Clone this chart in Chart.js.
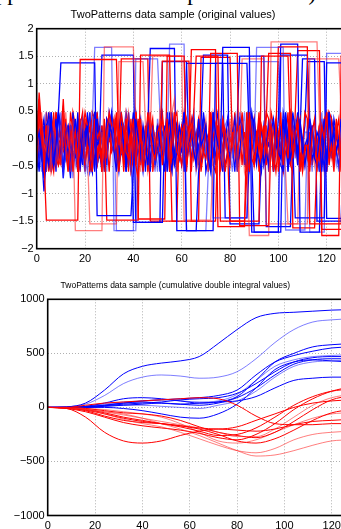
<!DOCTYPE html>
<html>
<head>
<meta charset="utf-8">
<script src="https://cdn.jsdelivr.net/npm/chart.js@4.4.1/dist/chart.umd.min.js"></script>
<style>
  html, body { margin: 0; padding: 0; background: #fff; overflow: hidden; width: 341px; height: 529px; position: relative; }
  #caption { position: absolute; right: 19px; top: -17px; font: 23px/20px "Liberation Serif", serif; white-space: nowrap; color: #000; }
  #rawChart { position: absolute; left: 0; top: 0; }
  #cumChart { position: absolute; left: 0; top: 270px; }
</style>
</head>
<body>
<div id="caption">approximation data representations).</div>
<canvas id="rawChart" width="360" height="270"></canvas>
<canvas id="cumChart" width="360" height="259"></canvas>
<script>
// ticks
const xTicks = [0, 20, 40, 60, 80, 100, 120];
const rawTicks = [-2, -1.5, -1, -0.5, 0, 0.5, 1, 1.5, 2];
const cumTicks = [-1000, -500, 0, 500, 1000];

// noise part of each series, one char per sample: 'i' = 0, each letter step = 0.12
const blueNoise = [
  "hjgafilehmjgdkhi ligfjmhekgidjhlf gkeihjmfdligkhej ifkhgdjlhegkimfh jgelhikfdmjhgeil hkfjgimdhekjlgfi gjhekflidhmjgkie hlfgjidkemhjgilf",
  "kgdihlejfimcghkj egjlfdhkimegjhfl jeglhfkdimhgejlk fhdkjgmeilhfjdkg ilegjhkfdmiglehj gdkhmjfeilgkdhjb hjfmegkidhlfjgek jhdlgimfekhjgdli",
  "dhkjgemilfhcjkgi lgejhkfdmhigkejh fkihdlgjemhfkigd jmgehkdilfjhgmek hegjldkhimfgjehl kfhdjmgeiklhfdjg ejlhgkdmifhjelgh igkfejhldmgkihfj",
  "jfhcklgeimhdjgkf hlegjkdfmihgelkj gdjmhekilfghjdkm ehkgjldfihmegkjh kgidhmjelfkhgdji fjlegkhdimjfhkeg lhdjgfmkeihjdlgk higekjdlfmhgkeji",
  "gkhemjdilhfkgejc ihlfdkgjmehigdlk hejgkmfdilhjegkh jdlhfigkemjhdkgi kgfjhledimkgjfhe hmdgkjiflehgkdjl fihkegjmdhlfikgj jekhgdlifmjhegki",
  "ikgdjhmelfgikhdj gmhejkfdilgjhemk hfjlgdkimehfjgld kehigjmfdlkhegji jlfhdkgeimjfhldg egkjhmidflgekjhi hkdglfjeimhkdgjf ljgehikdmfljgehk",
  "hdjlgkfeimhdjgck fkighmejdlfkhgim jgelkdhifmjgeklh dihkjgmeflhdikjg kmfhegjidlkmfheg ghjdlkeimfghjdlk iegkhjfmdlieghkj fljhgdkemifljhgd",
  "jkfhdligmejkfhdl gidkjhmflegidkjh lhgejkdimfhlgejk egkmhidjflegkmhi hjdfklgeimhjdfkl kfihgjmedlkfihgj dlgjhekifmdlgjhe ihkegfjldmihkegf",
  "gjhkdmeilfgjhkdm hekfjlgdimhekfjl jgdhkemilfjgdhke kihfgjldmekihfgj fhjekgdimlfhjekg ildgkhjfmeildgkh hgkjfedlimhgkjfe ekhidjglfmekhidj",
  "khfjgelidmkhfjge gdihkjmflegdihkj jlegfhkdimjlegfh hfkdjigmelhfkdji ekgjhldfimekgjhl ihdlkgjmfeihdlkg gjmehkfidlgjmehk lfhgijdkemlfhgij"
];
const redNoise = [
  "hpkfdjlgeimhkfjd ljgeihkmdfljgeih kdhmjgfileckdhmj gfjkehldimgfjkeh imdgkjhelfimdgkj ehlfjgkdmiehlfjg jkgdhmeiflfjkgdh hdjlegkimfhdjleg",
  "ejmhgkdlifejmhgk lgdikfhjmelgdikf hkjfemgidlhkjfem dihlgjkfmodihlgj kfgehjldimkfgehj gljdkhifemgljdkh imehfgkjdlimehfg fhkjdlegmifhkjdl",
  "iogdkhjlfeiogdkh jfkmehgdlijfkmeh hdlgjkfimehdlgjk mgejhidkflmgejhi kfhldgjemikfhldg ejgkimhdlfejgkim lhdjfkgiemlhdjfk gkifhejdmlgkifhe",
  "fljhkdgimefljhkd hegjmkdilfhegjmk kidhflgjemkidhfl jgmfekhdlijgmfek dkhljgfimedkhljg ihfegkjdmlihfegk gjldhmkefigjldhm lekgifhjdmlekgif",
  "knfjdhlgeiknfjdh gjeilkhdmfgjeilk hdkgfjmielhdkgfj jmhelgdkfijmhelg fgkdjhimlefgkdjh lhjgekdfmilhjgek eikfhgjdlmeikfhg kgdjmhlfiekgdjmh",
  "hkgemjdflihkgemj jdlfihkgmejdlfih gihkdjelfmgihkdj lfjghmkdeilfjghm ekdhjgilmfekdhjg ihmfkejgdlihmfke kgjldhfimekgjldh fjehgkmdlifjehgk",
  "jhlekgfdmijhlekg gkfidjhmlegkfidj lejhgmkdfilejhgm dgkjlhfiemdgkjlh hmifekjgldhmifek kjdghlemfikjdghl fihkjdglmefihkjd iglhfkejdmiglhfk",
  "gmjdhkleifgmjdhk kfhljgdimekfhljg ihekdfmjglihekdf ejgmkhildfejgmkh hldgjfkemihldgjf jkfhimdelgjkfhim dhjkgelfmidhjkge lgiehkjdfmlgiehk",
  "ekjhgldmfiekjhgl hgdlkjfiemhgdlkj jmfegkhdlijmfegk fkhjdimlgefkhjdi lihgejkdmflihgej gdjkhmfeligdjkhm kjelfhdgimkjelfh hfgidkjlmehfgidk",
  "ighkfmjdleighkfm kdjhlgeimfkdjhlg hlfjeidkgmhlfjei jegkmhfldijegkmh fkdligjhmefkdlig lhjgfkemdilhjgfk dmkhjgilfedmkhjg gjfeklhdimgjfekl"
];

// flat pattern segments of each series: [from, to, level]
const blueSteps = [
  [[10, 25, 1.38], [25, 39, -1.40], [77, 89, 1.66], [89, 101, -1.70]],
  [[24, 32, 1.66], [32, 41, -1.67], [91, 103, 1.66], [103, 111, -1.66]],
  [[27, 41, 1.52], [41, 52, -1.52], [62, 74, -1.67], [74, 87, 1.37]],
  [[47, 58, 1.64], [58, 66, -1.67], [107, 120, -1.44], [120, 128, 1.38]],
  [[55, 62, 1.72], [62, 70, -1.67], [73, 88, -1.44], [88, 100, 1.40]],
  [[62, 78, 1.37], [78, 87, -1.44], [101, 109, 1.72], [109, 117, -1.70]],
  [[40, 52, -1.52], [52, 62, 1.40], [90, 101, -1.70], [101, 112, 1.52]],
  [[33, 41, -1.67], [41, 50, 1.45], [113, 120, -1.70], [120, 128, 1.55]],
  [[69, 80, 1.52], [80, 92, -1.55], [110, 116, 1.45], [116, 126, -1.50]],
  [[84, 95, 1.50], [95, 105, -1.60], [112, 120, 1.40], [120, 127, -1.45]]
];
const redSteps = [
  [[4, 18, -1.48], [18, 33, 1.44], [66, 76, 1.50], [76, 86, -1.50]],
  [[16, 28, -1.67], [28, 40, 1.67], [88, 97, -1.76], [97, 116, 1.76]],
  [[29, 43, -1.48], [43, 55, 1.52], [100, 113, 1.67], [113, 126, -1.55]],
  [[42, 54, -1.46], [54, 61, 1.50], [80, 93, -1.50], [93, 104, 1.50]],
  [[48, 61, 1.50], [61, 72, -1.48], [104, 113, -1.55], [113, 125, 1.45]],
  [[52, 64, 1.41], [64, 74, -1.50], [118, 126, -1.76], [126, 128, 1.50]],
  [[64, 75, 1.62], [75, 86, -1.60], [96, 106, 1.55], [106, 115, -1.62]],
  [[22, 34, -1.55], [34, 44, 1.40], [85, 95, 1.45], [95, 108, -1.55]],
  [[35, 47, 1.45], [47, 58, -1.50], [72, 84, 1.55], [84, 96, -1.58]],
  [[56, 68, -1.50], [68, 80, 1.48], [108, 118, 1.60], [118, 128, -1.65]]
];

// cumulative double integral, read every 8 samples
const cumX = [0, 8, 16, 24, 32, 40, 48, 56, 64, 72, 80, 88, 96, 104, 112, 120, 128];
const blueCum = [
  [0, 5, 40, 160, 310, 380, 410, 430, 470, 590, 720, 830, 870, 880, 890, 900, 905],
  [0, 5, 30, 110, 220, 280, 300, 290, 270, 280, 330, 450, 600, 720, 790, 810, 820],
  [0, 0, 10, 40, 80, 90, 80, 60, 40, 50, 100, 250, 420, 500, 560, 580, 590],
  [0, 0, 5, 20, 40, 60, 70, 80, 90, 110, 160, 300, 420, 480, 520, 550, 560],
  [0, 0, 10, 30, 50, 60, 70, 60, 50, 60, 120, 250, 380, 440, 470, 480, 490],
  [0, 0, 5, 15, 30, 40, 50, 70, 80, 90, 130, 220, 330, 420, 460, 470, 470],
  [0, 0, 0, 10, 20, 30, 40, 30, 20, 40, 90, 180, 300, 400, 440, 450, 450],
  [0, 0, 5, 10, 20, 20, 10, 0, -10, 20, 60, 150, 280, 380, 420, 430, 440],
  [0, 0, 5, 20, 40, 50, 40, 30, 40, 50, 60, 100, 180, 250, 270, 280, 280],
  [0, 0, 0, 0, -10, -30, -60, -90, -100, -60, 30, 180, 350, 420, 440, 430, 420]
];
const redCum = [
  [0, -10, -90, -230, -310, -330, -310, -260, -220, -200, -210, -220, -200, -160, -130, -120, -110],
  [0, -5, -20, -60, -110, -150, -180, -230, -290, -350, -400, -420, -380, -300, -250, -230, -220],
  [0, -5, -30, -80, -120, -140, -150, -170, -200, -250, -310, -330, -290, -210, -120, -50, -20],
  [0, 0, 20, 40, 50, 60, 70, 80, 90, 80, 20, -80, -150, -160, -160, -150, -150],
  [0, -5, -20, -40, -60, -100, -150, -200, -260, -330, -400, -450, -440, -400, -350, -310, -300],
  [0, -10, -40, -90, -140, -170, -190, -210, -240, -280, -300, -250, -150, -20, 80, 150, 190],
  [0, -5, -20, -50, -90, -120, -150, -180, -220, -260, -250, -190, -90, 20, 100, 150, 170],
  [0, -5, -15, -40, -70, -100, -130, -160, -190, -230, -270, -270, -200, -90, 20, 90, 120],
  [0, 0, -10, -30, -50, -60, -80, -120, -180, -230, -260, -280, -230, -130, -20, 70, 110],
  [0, -5, -25, -60, -100, -130, -150, -170, -190, -200, -180, -120, -60, 0, 40, 60, 70],
  [0, 0, -10, -20, -40, -60, -90, -150, -230, -310, -330, -300, -230, -160, -100, -60, -50]
];

const FONT = "'Liberation Sans', Arial, Helvetica, sans-serif";
const NOISE_STEP = 0.12;
const minus = v => String(v).replace('-', '\u2212');

function buildRaw(noise, steps) {
  const s = noise.replace(/ /g, '');
  const pts = [];
  for (let i = 0; i < s.length; i++) {
    let y = (s.charCodeAt(i) - 105) * NOISE_STEP;
    for (const [a, b, lv] of steps) if (i >= a && i <= b) y = lv;
    pts.push({ x: i, y: y });
  }
  return pts;
}

function lineColor(base, i) {
  // a few curves come out paler in the print
  if (base === 'blue') return i % 3 === 1 ? 'rgba(40,40,255,0.6)' : '#0000ff';
  return i % 3 === 1 ? 'rgba(255,40,40,0.6)' : '#ff0000';
}

const boxPlugin = {
  id: 'box',
  afterDatasetsDraw(chart) {
    const { ctx, chartArea: a } = chart;
    ctx.save();
    ctx.strokeStyle = '#000';
    ctx.lineWidth = 1.6;
    ctx.strokeRect(a.left, a.top, a.width, a.height);
    ctx.restore();
  }
};

function axes(yTicks, yMin, yMax, yWidth, xHeight) {
  return {
    x: {
      type: 'linear', min: 0, max: 128,
      afterBuildTicks: s => { s.ticks = xTicks.map(v => ({ value: v })); },
      afterFit: s => { s.height = xHeight; },
      grid: { color: '#b0b0b0', lineWidth: 1, drawTicks: false },
      border: { display: false, dash: [1, 2] },
      ticks: { padding: 4, color: '#000', font: { family: FONT, size: 11 }, maxRotation: 0, callback: minus }
    },
    y: {
      type: 'linear', min: yMin, max: yMax,
      afterBuildTicks: s => { s.ticks = yTicks.map(v => ({ value: v })); },
      afterFit: s => { s.width = yWidth; },
      grid: { color: '#b0b0b0', lineWidth: 1, drawTicks: false },
      border: { display: false, dash: [1, 2] },
      ticks: { padding: 3, color: '#000', font: { family: FONT, size: 11 }, callback: minus }
    }
  };
}

// red and blue interleaved so both show through the noise band (first dataset is drawn on top)
const rawSets = [];
redNoise.forEach((n, i) => {
  rawSets.push({ data: buildRaw(n, redSteps[i]), borderColor: lineColor('red', i) });
  rawSets.push({ data: buildRaw(blueNoise[i], blueSteps[i]), borderColor: lineColor('blue', i) });
});

new Chart(document.getElementById('rawChart'), {
  type: 'line',
  data: { datasets: rawSets.map(d => Object.assign(d, { borderWidth: 1.3, pointRadius: 0, tension: 0, fill: false })) },
  options: {
    responsive: false, animation: false, devicePixelRatio: 1,
    layout: { padding: { left: 0, right: 14, top: 0, bottom: 0 } },
    plugins: {
      legend: { display: false }, tooltip: { enabled: false },
      title: { display: true, text: 'TwoPatterns data sample (original values)', color: '#000',
               font: { family: FONT, size: 11, weight: 'normal' }, padding: { top: 8, bottom: 7.5 } }
    },
    scales: axes(rawTicks, -2, 2, 36.7, 21.3)
  },
  plugins: [boxPlugin]
});

const cumSets = [];
redCum.forEach((c, i) => cumSets.push({ data: c.map((v, k) => ({ x: cumX[k], y: v })), borderColor: lineColor('red', i) }));
blueCum.forEach((c, i) => cumSets.push({ data: c.map((v, k) => ({ x: cumX[k], y: v })), borderColor: lineColor('blue', i) }));

new Chart(document.getElementById('cumChart'), {
  type: 'line',
  data: { datasets: cumSets.map(d => Object.assign(d, { borderWidth: 1, pointRadius: 0, cubicInterpolationMode: 'monotone', fill: false })) },
  options: {
    responsive: false, animation: false, devicePixelRatio: 1,
    layout: { padding: { left: 0, right: 9.3, top: 0, bottom: 0 } },
    plugins: {
      legend: { display: false }, tooltip: { enabled: false },
      title: { display: true, text: 'TwoPatterns data sample (cumulative double integral values)', color: '#000',
               font: { family: FONT, size: 8.5, weight: 'normal' }, padding: { top: 11, bottom: 8.1 } }
    },
    scales: axes(cumTicks, -1000, 1000, 47.7, 13.5)
  },
  plugins: [boxPlugin]
});
</script>
</body>
</html>
